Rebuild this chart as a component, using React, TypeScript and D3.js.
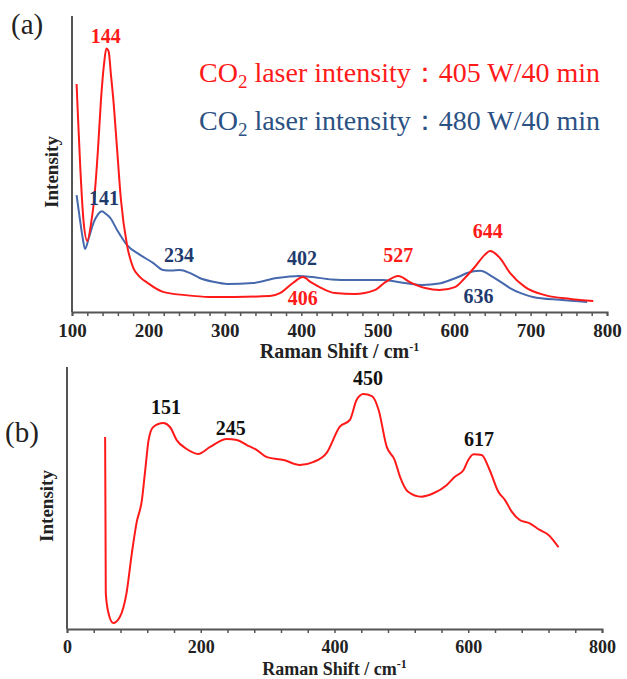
import React, { useEffect, useRef } from "react";
import * as d3 from "d3";

// (a) CO2 laser 405 W/40 min  [Raman shift, intensity]
const red405: [number, number][] = [
  [106, 77], [108, 65], [111, 48], [115, 31], [120, 24], [125, 30], [129, 38],
  [134, 55], [138, 72], [142, 84], [145, 89], [148, 88], [151, 80], [154, 72],
  [159, 55], [164, 38], [172, 22.6], [180, 15], [189, 11.8], [199, 9.8],
  [219, 6.8], [248, 5.7], [280, 5.1], [313, 5.1], [359, 5.4], [372, 6.4],
  [389, 9.8], [402, 11.8], [413, 10], [424, 8.4], [444, 6.4], [470, 6.1],
  [496, 7.4], [510, 10.1], [527, 12.2], [542, 10.1], [562, 8.1], [581, 7.4],
  [601, 8.4], [614, 11.5], [627, 15.2], [640, 19.3], [647, 20.6], [660, 18.2],
  [673, 13.2], [693, 8.4], [719, 5.7], [752, 4.4], [782, 3.7],
];

// (a) CO2 laser 480 W/40 min
const blue480: [number, number][] = [
  [106, 39.5], [110, 32], [114, 25], [117, 21.3], [122, 25], [128, 30],
  [134, 33], [139, 34], [145, 33], [150, 31.8], [159, 27.7], [172, 22.6],
  [189, 19.3], [206, 16.6], [219, 14.2], [230, 14], [241, 14.2], [254, 13.2],
  [267, 11.5], [285, 10.2], [303, 9.5], [337, 9.8], [368, 11.5], [398, 12.2],
  [415, 11.8], [440, 11], [464, 10.8], [507, 10.8], [535, 9.8], [559, 9.1],
  [580, 9.6], [595, 10.8], [607, 12], [617, 13.2], [634, 13.9], [651, 11.8],
  [662, 10], [673, 8.1], [688, 6.3], [703, 5.1], [738, 4.1], [774, 3.4],
];

// (b) spectrum
const spectrumB: [number, number][] = [
  [57, 73.3], [58, 13.7], [62, 6.1], [69, 2.3], [79, 4.6], [89, 13.7],
  [97, 29], [104, 40.5], [112, 49.2], [117, 60.7], [122, 72.1], [129, 77.1],
  [144, 78.6], [154, 77.1], [164, 72.1], [179, 68.7], [196, 66.8], [214, 69.5],
  [239, 72.5], [254, 72.1], [269, 70.2], [284, 68.3], [299, 65.6], [324, 64.5],
  [348, 62.6], [368, 63.7], [388, 67.1], [408, 77.2], [423, 79.8], [433, 87.4],
  [443, 89.7], [456, 88.9], [466, 83.6], [478, 69.6], [490, 64.5], [498, 58.1],
  [510, 52.4], [530, 50.5], [548, 51.8], [568, 55], [580, 58.1], [593, 60.7],
  [600, 64.5], [608, 66.7], [620, 66.4], [632, 60.7], [645, 52.4], [655, 49.2],
  [665, 44.8], [677, 41.6], [692, 40.3], [707, 37.8], [720, 35.9], [735, 31.2],
];

// peak labels: [text, x, y] in data units
const peaksRed: [string, number, number][] = [
  ["144", 144, 91], ["406", 402, 2.5], ["527", 527, 17], ["644", 644, 25],
];
const peaksBlue: [string, number, number][] = [
  ["141", 142, 36], ["234", 240, 17], ["402", 401, 16], ["636", 632, 3],
];
const peaksB: [string, number, number][] = [
  ["151", 148, 82], ["245", 245, 74], ["450", 450, 93], ["617", 616, 70],
];

const legendRed = "405 W/40 min";
const legendBlue = "480 W/40 min";

const RED = "#ff1a1a";
const BLUE_LINE = "#4668ad";
const BLUE_TEXT = "#1f3b6e";
const BLUE_LEGEND = "#2c5183";
const AXIS = "#555";
const FONT = "'Liberation Serif', 'Times New Roman', serif";

const W = 627;
const H = 679;

const App = () => {
  const ref = useRef<SVGSVGElement>(null);

  useEffect(() => {
    const svg = d3.select(ref.current);
    svg.selectAll("*").remove();

    //dibuja un panel
    const panel = (
      domainX: [number, number],
      rangeX: [number, number],
      rangeY: [number, number],
      step: number,
      major: number,
      tickFont: number,
      titleFont: number,
    ) => {
      const x = d3.scaleLinear().domain(domainX).range(rangeX);
      const y = d3.scaleLinear().domain([0, 100]).range(rangeY);
      const g = svg.append("g");

      const ticks = d3.range(domainX[0], domainX[1] + 0.1, step);
      const axis = d3
        .axisBottom(x)
        .tickValues(ticks)
        .tickSizeOuter(0)
        .tickSize(4)
        .tickFormat((d) => ((d as number) % major === 0 ? String(d) : ""));
      const ax = g
        .append("g")
        .attr("transform", `translate(0,${rangeY[0]})`)
        .call(axis);
      ax.select(".domain").attr("stroke", AXIS).attr("stroke-width", 2);
      ax.selectAll(".tick line").attr("stroke", AXIS).attr("stroke-width", 1.5);
      ax.selectAll(".tick text")
        .attr("font-family", FONT)
        .attr("font-weight", "bold")
        .attr("font-size", tickFont)
        .attr("fill", "#222")
        .attr("dy", "0.95em");

      //eje y sin marcas
      g.append("line")
        .attr("x1", rangeX[0])
        .attr("x2", rangeX[0])
        .attr("y1", rangeY[0])
        .attr("y2", rangeY[1])
        .attr("stroke", AXIS)
        .attr("stroke-width", 2);

      //titulo eje x
      const t = g
        .append("text")
        .attr("x", (rangeX[0] + rangeX[1]) / 2)
        .attr("y", rangeY[0] + 46)
        .attr("text-anchor", "middle")
        .attr("font-family", FONT)
        .attr("font-weight", "bold")
        .attr("font-size", titleFont)
        .attr("fill", "#222");
      t.append("tspan").text("Raman Shift / cm");
      t.append("tspan").attr("dy", -7).attr("font-size", 12).text("-1");

      //titulo eje y
      g.append("text")
        .attr(
          "transform",
          `translate(${rangeX[0] - 14},${(rangeY[0] + rangeY[1]) / 2 + 8}) rotate(-90)`,
        )
        .attr("text-anchor", "middle")
        .attr("font-family", FONT)
        .attr("font-weight", "bold")
        .attr("font-size", 19)
        .attr("fill", "#222")
        .text("Intensity");

      const line = d3
        .line<[number, number]>()
        .x((d) => x(d[0]))
        .y((d) => y(d[1]))
        .curve(d3.curveMonotoneX);

      return { g, x, y, line };
    };

    const labels = (
      p: ReturnType<typeof panel>,
      items: [string, number, number][],
      color: string,
    ) => {
      p.g
        .selectAll(null)
        .data(items)
        .enter()
        .append("text")
        .attr("x", (d) => p.x(d[1]))
        .attr("y", (d) => p.y(d[2]))
        .attr("text-anchor", "middle")
        .attr("font-family", FONT)
        .attr("font-weight", "bold")
        .attr("font-size", 20)
        .attr("fill", color)
        .text((d) => d[0]);
    };

    // ---- panel (a)
    const a = panel([100, 800], [72, 607], [312, 16], 20, 100, 19, 20);
    a.g.append("path")
      .datum(blue480)
      .attr("d", a.line)
      .attr("fill", "none")
      .attr("stroke", BLUE_LINE)
      .attr("stroke-width", 2);
    a.g.append("path")
      .datum(red405)
      .attr("d", a.line)
      .attr("fill", "none")
      .attr("stroke", RED)
      .attr("stroke-width", 2);
    labels(a, peaksRed, RED);
    labels(a, peaksBlue, BLUE_TEXT);

    //leyenda
    [
      [legendRed, RED, 82],
      [legendBlue, BLUE_LEGEND, 130],
    ].forEach(([txt, color, yy]) => {
      const t = svg
        .append("text")
        .attr("x", 199)
        .attr("y", yy as number)
        .attr("font-family", FONT)
        .attr("font-size", 28)
        .attr("fill", color as string);
      t.append("tspan").text("CO");
      t.append("tspan").attr("dy", 6).attr("font-size", 19).text("2");
      t.append("tspan").attr("dy", -6).text(" laser intensity");
      t.append("tspan").text("：");
      t.append("tspan").text(txt as string);
    });

    svg.append("text")
      .attr("x", 11)
      .attr("y", 34)
      .attr("font-family", FONT)
      .attr("font-size", 29)
      .attr("fill", "#222")
      .text("(a)");

    // ---- panel (b)
    const b = panel([0, 800], [67, 602], [629, 367], 40, 200, 18, 18);
    b.g.append("path")
      .datum(spectrumB)
      .attr("d", b.line)
      .attr("fill", "none")
      .attr("stroke", RED)
      .attr("stroke-width", 2);
    labels(b, peaksB, "#111");

    svg.append("text")
      .attr("x", 5)
      .attr("y", 442)
      .attr("font-family", FONT)
      .attr("font-size", 29)
      .attr("fill", "#222")
      .text("(b)");
  }, []);

  return (
    <svg
      ref={ref}
      width={W}
      height={H}
      style={{ position: "absolute", left: 0, top: 0, background: "#fff" }}
    />
  );
};

export default App;
